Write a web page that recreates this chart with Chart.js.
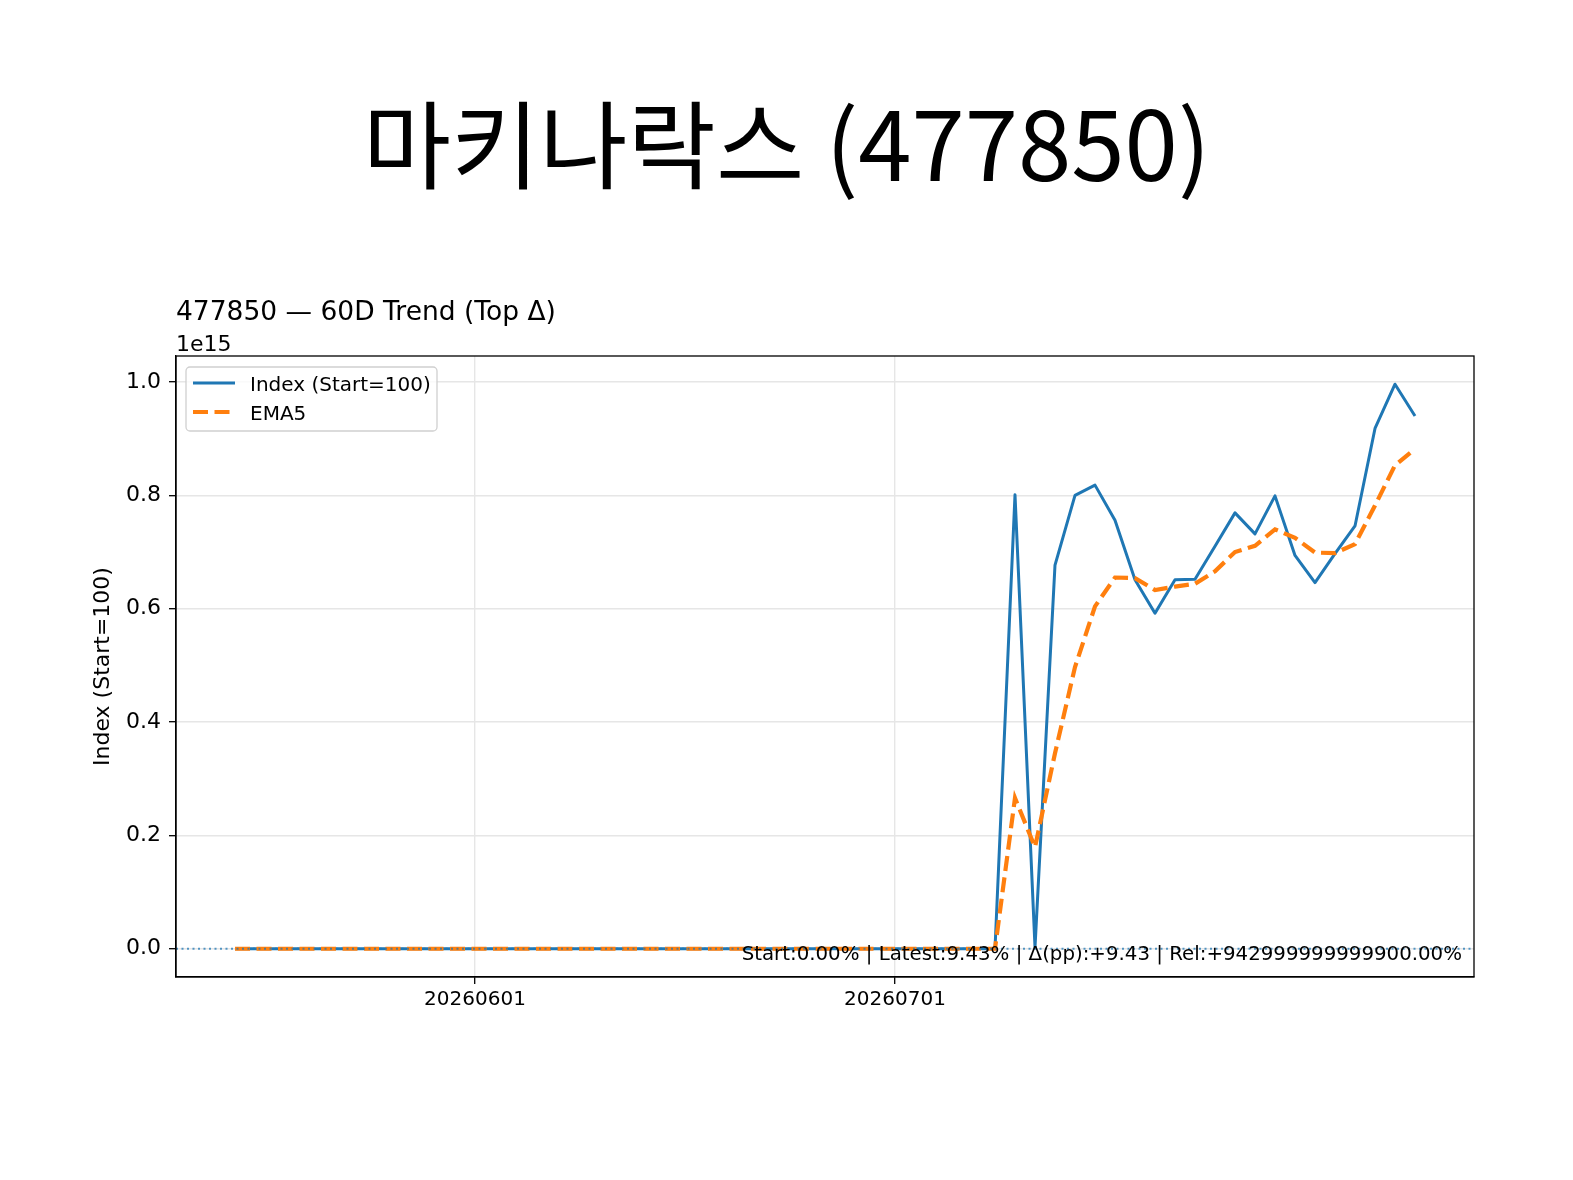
<!DOCTYPE html>
<html><head><meta charset="utf-8">
<script src="https://cdn.jsdelivr.net/npm/chart.js@4.4.1/dist/chart.umd.min.js"></script>
<style>html,body{margin:0;padding:0;background:#fff;overflow:hidden}canvas{display:block}</style>
</head><body>
<canvas id="c" width="1573" height="1180" style="width:1573px;height:1180px"></canvas>
<script>
// ---- data (index values in units of 1e15) ----
const dates = [
  '20260513','20260514','20260515','20260518','20260519','20260520','20260521','20260522','20260526','20260527',
  '20260528','20260529','20260601','20260602','20260604','20260605','20260608','20260609','20260610','20260611',
  '20260612','20260615','20260616','20260617','20260618','20260619','20260622','20260623','20260624','20260625',
  '20260626','20260629','20260630','20260701','20260702','20260703','20260706','20260707','20260708','20260709',
  '20260710','20260713','20260714','20260715','20260716','20260717','20260720','20260721','20260722','20260723',
  '20260724','20260727','20260728','20260729','20260730','20260731','20260803','20260804','20260805','20260806'
];
const indexValues = [
  0,0,0,0,0,0,0,0,0,0,
  0,0,0,0,0,0,0,0,0,0,
  0,0,0,0,0,0,0,0,0,0,
  0,0,0,0,0,0,0,0,0,0.801,
  0.003,0.677,0.800,0.818,0.756,0.651,0.592,0.651,0.652,0.710,
  0.769,0.732,0.799,0.694,0.646,0.697,0.746,0.918,0.996,0.940
];
const ema5Values = [
  0,0,0,0,0,0,0,0,0,0,
  0,0,0,0,0,0,0,0,0,0,
  0,0,0,0,0,0,0,0,0,0,
  0,0,0,0,0,0,0,0,0,0.266,
  0.179,0.345,0.497,0.604,0.655,0.654,0.633,0.639,0.644,0.666,
  0.700,0.711,0.740,0.725,0.699,0.698,0.714,0.782,0.853,0.882
];
const baselineValue = 0;          // Start=100 reference line (≈0 at 1e15 scale)
const yTicks = [0.0, 0.2, 0.4, 0.6, 0.8, 1.0];
const xTickDates = ['20260601', '20260701'];
const seriesNames = ['Index (Start=100)', 'EMA5'];
const titleText = '마키나락스 (477850)';
const subtitleText = '477850 — 60D Trend (Top Δ)';
const scaleText = '1e15';
const yAxisTitle = 'Index (Start=100)';
const annotationText = 'Start:0.00% | Latest:9.43% | Δ(pp):+9.43 | Rel:+942999999999900.00%';

// ---- styling ----
const BLUE = '#1f77b4', ORANGE = '#ff7f0e';
const FONT = '"DejaVu Sans", sans-serif';
const n = dates.length;
const xPad = (n - 1) * 0.05;
const yMaxData = Math.max(...indexValues, ...ema5Values);
const yPad = (yMaxData - 0) * 0.05;

const decor = {
  id: 'decor',
  afterDraw(chart) {
    const ctx = chart.ctx, a = chart.chartArea;
    ctx.save();
    // frame
    ctx.strokeStyle = '#000'; ctx.lineWidth = 1.3;
    ctx.strokeRect(a.left, a.top, a.right - a.left, a.bottom - a.top);
    ctx.fillStyle = '#000';
    // big title
    ctx.font = '96px "Noto Sans CJK KR", sans-serif';
    ctx.textAlign = 'center'; ctx.textBaseline = 'alphabetic';
    ctx.fillText(titleText, chart.width / 2, 181);
    // subtitle
    ctx.textAlign = 'left';
    ctx.font = '26.5px ' + FONT;
    ctx.fillText(subtitleText, a.left, 320);
    // scale (offset) text
    ctx.font = '22px ' + FONT;
    ctx.fillText(scaleText, a.left, 351);
    // annotation
    ctx.font = '19.8px ' + FONT;
    ctx.textAlign = 'right';
    ctx.fillText(annotationText, a.right - 12, 960);
    // legend
    const lx = a.left + 10, ly = a.top + 11, lw = 251, lh = 64;
    ctx.beginPath();
    ctx.roundRect(lx, ly, lw, lh, 4);
    ctx.fillStyle = 'rgba(255,255,255,0.8)'; ctx.fill();
    ctx.strokeStyle = '#d0d0d0'; ctx.lineWidth = 1.3; ctx.stroke();
    const rows = [
      {c: BLUE, w: 3, dash: [], y: ly + 16},
      {c: ORANGE, w: 4.2, dash: [15, 6.5], y: ly + 45}
    ];
    rows.forEach((r, i) => {
      ctx.beginPath();
      ctx.setLineDash(r.dash);
      ctx.strokeStyle = r.c; ctx.lineWidth = r.w;
      ctx.moveTo(lx + 7, r.y); ctx.lineTo(lx + 49, r.y); ctx.stroke();
      ctx.setLineDash([]);
      ctx.fillStyle = '#000'; ctx.textAlign = 'left';
      ctx.font = '20px ' + FONT;
      ctx.fillText(seriesNames[i], lx + 64, r.y + 8);
    });
    ctx.restore();
  }
};

new Chart(document.getElementById('c'), {
  type: 'line',
  data: {
    datasets: [
      {
        label: 'baseline',
        data: [{x: -xPad, y: baselineValue}, {x: n - 1 + xPad, y: baselineValue}],
        borderColor: 'rgba(31,119,180,0.75)', borderWidth: 2, borderDash: [2, 3.5],
        pointRadius: 0, order: 0
      },
      {
        label: seriesNames[1],
        data: ema5Values.map((v, i) => ({x: i, y: v})),
        borderColor: ORANGE, borderWidth: 4.2, borderDash: [15, 6.5],
        pointRadius: 0, tension: 0, order: 1
      },
      {
        label: seriesNames[0],
        data: indexValues.map((v, i) => ({x: i, y: v})),
        borderColor: BLUE, borderWidth: 3, borderJoinStyle: 'round',
        pointRadius: 0, tension: 0, order: 2
      }
    ]
  },
  options: {
    responsive: false, animation: false, devicePixelRatio: 1,
    layout: {padding: {top: 356, right: 99, left: 0, bottom: 0}},
    plugins: {legend: {display: false}, tooltip: {enabled: false}},
    scales: {
      x: {
        type: 'linear', min: -xPad, max: n - 1 + xPad,
        afterBuildTicks: s => { s.ticks = xTickDates.map(d => ({value: dates.indexOf(d)})); },
        afterFit: s => { s.height = 203; },
        ticks: {
          callback: v => dates[v], color: '#000', padding: 4, maxRotation: 0, autoSkip: false,
          font: {family: FONT, size: 20}
        },
        grid: {color: '#e6e6e6', lineWidth: 1.4, tickColor: '#000', tickLength: 7, tickWidth: 1.3},
        border: {display: true, color: '#000', width: 1.3}
      },
      y: {
        type: 'linear', min: -yPad, max: yMaxData + yPad,
        afterBuildTicks: s => { s.ticks = yTicks.map(v => ({value: v})); },
        afterFit: s => { s.width = 176; },
        ticks: {
          callback: v => v.toFixed(1), color: '#000', padding: 8,
          font: {family: FONT, size: 22}
        },
        grid: {color: '#e6e6e6', lineWidth: 1.4, tickColor: '#000', tickLength: 7, tickWidth: 1.3},
        border: {display: true, color: '#000', width: 1.3},
        title: {
          display: true, text: yAxisTitle, color: '#000',
          font: {family: FONT, size: 22}, padding: {top: 90, bottom: 0}
        }
      }
    }
  },
  plugins: [decor]
});
</script>
</body></html>
